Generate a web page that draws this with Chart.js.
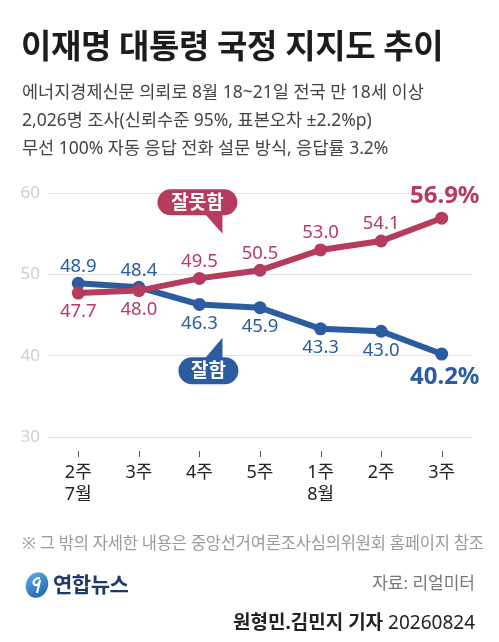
<!DOCTYPE html>
<html><head><meta charset="utf-8">
<script src="https://cdn.jsdelivr.net/npm/chart.js@4.4.1/dist/chart.umd.min.js"></script>
<style>
body{margin:0;background:#fff;}
#wrap{position:relative;width:499px;height:642px;overflow:hidden;font-family:"Noto Sans","Noto Sans CJK KR",sans-serif;background:#fff;}
#c{position:absolute;left:0;top:0;}
.t{position:absolute;white-space:nowrap;}
#title{left:21px;top:24px;font-size:33px;font-weight:700;color:#1c1c1c;line-height:44px;letter-spacing:-0.4px;}
#sub{left:22px;top:77px;font-size:17.5px;color:#444;line-height:28px;letter-spacing:0;}
#note{left:22px;top:532px;font-size:16.5px;color:#9a9a9a;line-height:22px;letter-spacing:-0.2px;}
#src{right:24px;top:571px;font-size:17px;color:#777;line-height:24px;}
#by{right:24px;top:608px;font-size:19px;color:#222;line-height:28px;}
#by b{font-weight:700;}
#logo{left:24px;top:571px;height:28px;}
#logotxt{left:53px;top:567px;font-size:21px;font-weight:700;color:#1d3a6b;line-height:34px;letter-spacing:-0.5px;}
</style></head><body>
<div id="wrap">
<canvas id="c" width="499" height="642"></canvas>
<div class="t" id="title">이재명 대통령 국정 지지도 추이</div>
<div class="t" id="sub">에너지경제신문 의뢰로 8월 18~21일 전국 만 18세 이상<br>2,026명 조사(신뢰수준 95%, 표본오차 ±2.2%p)<br>무선 100% 자동 응답 전화 설문 방식, 응답률 3.2%</div>
<div class="t" id="note">※ 그 밖의 자세한 내용은 중앙선거여론조사심의위원회 홈페이지 참조</div>
<svg class="t" id="logo" width="28" height="28" viewBox="0 0 28 28">
<defs><linearGradient id="g" x1="0" y1="0" x2="1" y2="1"><stop offset="0" stop-color="#5fb0e6"/><stop offset="1" stop-color="#1c5fae"/></linearGradient></defs>
<ellipse cx="13" cy="14" rx="11" ry="13" fill="url(#g)" transform="rotate(20 13 14)"/>
<path d="M16 7 C10 7 8 12 11 14 C13 15 16 12 16 9 L13 22" stroke="#fff" stroke-width="2.2" fill="none"/>
</svg>
<div class="t" id="logotxt">연합뉴스</div>
<div class="t" id="src">자료: 리얼미터</div>
<div class="t" id="by"><b>원형민.김민지 기자</b> 20260824</div>
</div>
<script>
const categories = [["2주","7월"],["3주"],["4주"],["5주"],["1주","8월"],["2주"],["3주"]];
const approveValues = [48.9, 48.4, 46.3, 45.9, 43.3, 43.0, 40.2];
const disapproveValues = [47.7, 48.0, 49.5, 50.5, 53.0, 54.1, 56.9];
const yTicks = [30, 40, 50, 60];
const seriesNames = ["잘함", "잘못함"];

const BLUE = "#2b5c9f";
const RED = "#b63c5e";
const FONT = '"Noto Sans","Noto Sans CJK KR",sans-serif';

const overlay = {
  id: "overlay",
  afterDatasetsDraw(chart) {
    const ctx = chart.ctx;
    const xs = chart.scales.x, ys = chart.scales.y;
    const n = categories.length;
    // tick marks under the axis
    ctx.save();
    ctx.strokeStyle = "#555";
    ctx.lineWidth = 1;
    for (let i = 0; i < n; i++) {
      const x = Math.round(xs.getPixelForValue(i)) + 0.5;
      ctx.beginPath();
      ctx.moveTo(x, chart.chartArea.bottom + 14);
      ctx.lineTo(x, chart.chartArea.bottom + 20);
      ctx.stroke();
    }
    ctx.restore();
    // value labels
    const sets = [
      {vals: approveValues, other: disapproveValues, color: BLUE},
      {vals: disapproveValues, other: approveValues, color: RED}
    ];
    ctx.save();
    ctx.textAlign = "center";
    ctx.textBaseline = "middle";
    sets.forEach(s => {
      s.vals.forEach((v, i) => {
        const x = xs.getPixelForValue(i);
        const y = ys.getPixelForValue(v);
        const above = v > s.other[i];
        ctx.fillStyle = s.color;
        if (i === n - 1) {
          ctx.font = "700 24px " + FONT;
          ctx.fillText(v.toFixed(1) + "%", x + 3, y + (above ? -22 : 23));
        } else {
          ctx.font = "400 18.5px " + FONT;
          ctx.fillText(v.toFixed(1), x, y + (above ? -17 : 19));
        }
      });
    });
    ctx.restore();
    // callouts
    function rr(x, y, w, h, r) {
      ctx.beginPath();
      ctx.moveTo(x + r, y);
      ctx.arcTo(x + w, y, x + w, y + h, r);
      ctx.arcTo(x + w, y + h, x, y + h, r);
      ctx.arcTo(x, y + h, x, y, r);
      ctx.arcTo(x, y, x + w, y, r);
      ctx.closePath();
    }
    const x2 = xs.getPixelForValue(2);
    // 잘못함
    ctx.save();
    ctx.fillStyle = RED;
    let cx = x2 - 2, cy = ys.getPixelForValue(58.85), w = 80, h = 26;
    rr(cx - w / 2, cy - h / 2, w, h, h / 2); ctx.fill();
    let tx = x2 + 23, ty = ys.getPixelForValue(55.0);
    ctx.beginPath();
    ctx.moveTo(tx - 19, cy + h / 2 - 3); ctx.lineTo(tx, cy + h / 2 - 3); ctx.lineTo(tx, ty); ctx.closePath(); ctx.fill();
    ctx.fillStyle = "#fff"; ctx.font = "700 19px " + FONT; ctx.textAlign = "center"; ctx.textBaseline = "middle";
    ctx.fillText(seriesNames[1], cx, cy + 1);
    // 잘함
    ctx.fillStyle = BLUE;
    cx = x2 + 9; cy = ys.getPixelForValue(38.15); w = 60; h = 27;
    rr(cx - w / 2, cy - h / 2, w, h, h / 2); ctx.fill();
    tx = x2 + 23; ty = ys.getPixelForValue(42.2);
    ctx.beginPath();
    ctx.moveTo(tx - 19, cy - h / 2 + 3); ctx.lineTo(tx, cy - h / 2 + 3); ctx.lineTo(tx, ty); ctx.closePath(); ctx.fill();
    ctx.fillStyle = "#fff";
    ctx.fillText(seriesNames[0], cx, cy + 1);
    ctx.restore();
  }
};

new Chart(document.getElementById("c"), {
  type: "line",
  data: {
    labels: categories,
    datasets: [
      {label: seriesNames[0], data: approveValues, borderColor: BLUE, backgroundColor: BLUE,
       pointBackgroundColor: BLUE, borderWidth: 6, pointRadius: 6.5, pointBorderWidth: 0, tension: 0, order: 1, clip: false},
      {label: seriesNames[1], data: disapproveValues, borderColor: RED, backgroundColor: RED,
       pointBackgroundColor: RED, borderWidth: 6, pointRadius: 6.5, pointBorderWidth: 0, tension: 0, order: 0, clip: false}
    ]
  },
  options: {
    responsive: false,
    animation: false,
    devicePixelRatio: 1,
    layout: {padding: {top: 193, right: 27, bottom: 135, left: 0}},
    plugins: {legend: {display: false}, tooltip: {enabled: false}},
    scales: {
      x: {
        offset: true,
        grid: {display: false, drawTicks: false},
        border: {display: false},
        ticks: {color: "#222", font: {family: FONT, size: 18}, padding: 25, maxRotation: 0, autoSkip: false},
        afterFit(s) { s.height = 70; }
      },
      y: {
        min: 30, max: 60,
        afterBuildTicks(s) { s.ticks = yTicks.map(v => ({value: v})); },
        grid: {color: "#e4e4e4", lineWidth: 1, drawTicks: false},
        border: {display: false},
        ticks: {color: "#cfcfcf", font: {family: FONT, size: 17}, padding: 8},
        afterFit(s) { s.width = 48; }
      }
    }
  },
  plugins: [overlay]
});
</script>
</body></html>
